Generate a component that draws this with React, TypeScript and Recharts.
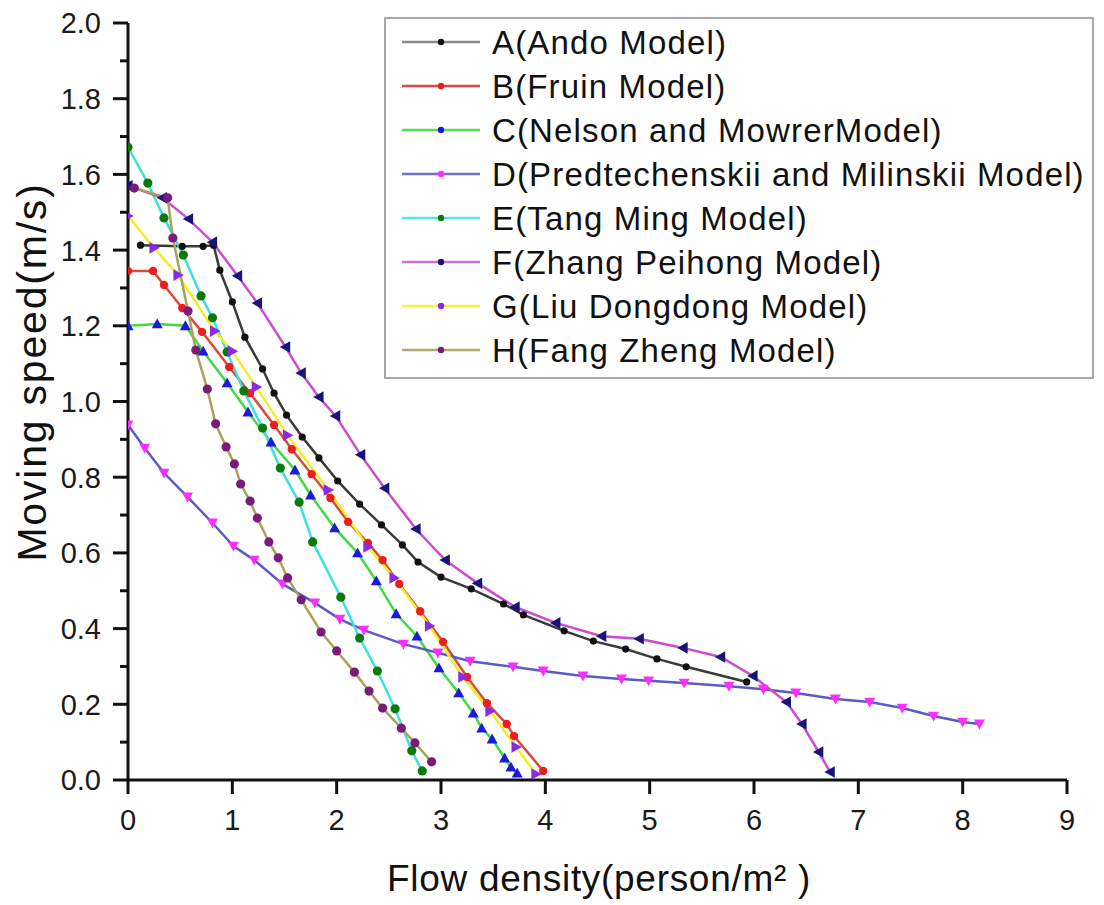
import React from 'react'
import { LineChart, Line, XAxis, YAxis } from 'recharts'

const FONT = '"Liberation Sans", Arial, Helvetica, sans-serif'

const xTicks = [0, 1, 2, 3, 4, 5, 6, 7, 8, 9]
const yTicks = [0, 0.1, 0.2, 0.3, 0.4, 0.5, 0.6, 0.7, 0.8, 0.9, 1.0, 1.1, 1.2, 1.3, 1.4, 1.5, 1.6, 1.7, 1.8, 1.9, 2.0]

// A (Ando)
const andoX = [0.12, 0.52, 0.72, 0.82, 0.88, 1.0, 1.12, 1.29, 1.4, 1.52, 1.67, 1.83, 2.01, 2.22, 2.43, 2.63, 2.78, 3.0, 3.29, 3.6, 3.79, 4.18, 4.46, 4.77, 5.07, 5.35, 5.93]
const andoY = [1.413, 1.41, 1.41, 1.413, 1.347, 1.263, 1.17, 1.086, 1.022, 0.964, 0.906, 0.851, 0.79, 0.729, 0.674, 0.621, 0.576, 0.536, 0.505, 0.465, 0.436, 0.394, 0.367, 0.346, 0.32, 0.299, 0.259]

// B (Fruin)
const fruinX = [0.0, 0.24, 0.345, 0.52, 0.71, 0.97, 1.17, 1.4, 1.57, 1.76, 1.94, 2.11, 2.3, 2.44, 2.6, 2.8, 3.02, 3.25, 3.44, 3.63, 3.7, 3.98]
const fruinY = [1.345, 1.345, 1.308, 1.247, 1.184, 1.091, 1.022, 0.938, 0.874, 0.808, 0.745, 0.682, 0.626, 0.581, 0.518, 0.446, 0.365, 0.272, 0.203, 0.148, 0.116, 0.024]

// C (Nelson and Mowrer)
const nelsonX = [0.0, 0.28, 0.55, 0.72, 0.95, 1.15, 1.37, 1.6, 1.75, 1.98, 2.2, 2.38, 2.57, 2.77, 2.98, 3.17, 3.31, 3.39, 3.49, 3.61, 3.67, 3.73]
const nelsonY = [1.2, 1.205, 1.2, 1.133, 1.049, 0.972, 0.893, 0.819, 0.753, 0.666, 0.6, 0.526, 0.439, 0.38, 0.296, 0.23, 0.177, 0.137, 0.108, 0.058, 0.034, 0.018]

// D (Predtechenskii and Milinskii)
const predX = [0.0, 0.16, 0.345, 0.57, 0.81, 1.01, 1.21, 1.48, 1.79, 2.03, 2.26, 2.64, 2.97, 3.28, 3.69, 3.98, 4.36, 4.73, 4.99, 5.33, 5.76, 6.09, 6.4, 6.78, 7.11, 7.42, 7.72, 8.0, 8.16]
const predY = [0.938, 0.877, 0.811, 0.748, 0.679, 0.618, 0.581, 0.518, 0.468, 0.425, 0.396, 0.359, 0.336, 0.314, 0.299, 0.288, 0.275, 0.267, 0.262, 0.256, 0.248, 0.24, 0.23, 0.214, 0.206, 0.19, 0.169, 0.153, 0.148]

// E (Tang Ming)
const tangX = [0.0, 0.19, 0.345, 0.53, 0.7, 0.81, 0.95, 1.11, 1.29, 1.46, 1.64, 1.77, 2.04, 2.22, 2.39, 2.56, 2.72, 2.82]
const tangY = [1.672, 1.577, 1.485, 1.387, 1.279, 1.221, 1.131, 1.028, 0.93, 0.824, 0.734, 0.629, 0.483, 0.375, 0.288, 0.188, 0.077, 0.024]

// F (Zhang Peihong)
const zhangX = [0.0, 0.33, 0.58, 0.81, 1.05, 1.24, 1.51, 1.66, 1.83, 1.99, 2.23, 2.46, 2.76, 3.04, 3.35, 3.71, 4.1, 4.54, 4.9, 5.32, 5.68, 5.99, 6.31, 6.46, 6.62, 6.73]
const zhangY = [1.57, 1.538, 1.482, 1.421, 1.332, 1.26, 1.144, 1.075, 1.012, 0.962, 0.859, 0.771, 0.663, 0.581, 0.52, 0.457, 0.415, 0.38, 0.373, 0.349, 0.325, 0.275, 0.206, 0.148, 0.074, 0.021]

// G (Liu Dongdong)
const liuX = [0.0, 0.25, 0.48, 0.83, 1.0, 1.23, 1.53, 1.92, 2.3, 2.55, 2.89, 3.21, 3.47, 3.72, 3.91]
const liuY = [1.49, 1.406, 1.334, 1.186, 1.133, 1.038, 0.911, 0.766, 0.616, 0.534, 0.407, 0.272, 0.182, 0.087, 0.016]

// H (Fang Zheng)
const fangX = [0.06, 0.38, 0.43, 0.575, 0.65, 0.76, 0.84, 0.94, 1.02, 1.08, 1.17, 1.24, 1.35, 1.44, 1.53, 1.66, 1.85, 2.0, 2.17, 2.31, 2.44, 2.62, 2.75, 2.91]
const fangY = [1.564, 1.538, 1.432, 1.239, 1.136, 1.033, 0.941, 0.88, 0.835, 0.782, 0.737, 0.692, 0.629, 0.587, 0.534, 0.476, 0.391, 0.341, 0.285, 0.235, 0.19, 0.137, 0.098, 0.048]

type Shape = 'circle' | 'up' | 'down' | 'left' | 'right'

const toPoints = (xs: number[], ys: number[]) => xs.map((x, i) => ({ x, y: ys[i] }))

const series = [
  { name: 'A(Ando Model)', xs: andoX, ys: andoY, line: '#3a3a3a', legendLine: '#8a8a8a', mark: '#111111', shape: 'circle' as Shape, size: 3.6 },
  { name: 'B(Fruin Model)', xs: fruinX, ys: fruinY, line: '#d84a3a', legendLine: '#e04848', mark: '#ee1c1c', shape: 'circle' as Shape, size: 4.2 },
  { name: 'C(Nelson and MowrerModel)', xs: nelsonX, ys: nelsonY, line: '#44d844', legendLine: '#55dd55', mark: '#1a1ad8', shape: 'up' as Shape, size: 5.5 },
  { name: 'D(Predtechenskii and Milinskii Model)', xs: predX, ys: predY, line: '#5a5ac8', legendLine: '#7070cc', mark: '#ff2cff', shape: 'down' as Shape, size: 5.5 },
  { name: 'E(Tang Ming Model)', xs: tangX, ys: tangY, line: '#3fe0e0', legendLine: '#55e5e5', mark: '#0b7a0b', shape: 'circle' as Shape, size: 4.6 },
  { name: 'F(Zhang Peihong Model)', xs: zhangX, ys: zhangY, line: '#cc4ccc', legendLine: '#d070d0', mark: '#16167a', shape: 'left' as Shape, size: 5.8 },
  { name: 'G(Liu Dongdong Model)', xs: liuX, ys: liuY, line: '#f0f02a', legendLine: '#f4f440', mark: '#8a2be2', shape: 'right' as Shape, size: 5.8 },
  { name: 'H(Fang Zheng Model)', xs: fangX, ys: fangY, line: '#a8a25a', legendLine: '#b0aa70', mark: '#7a1a7a', shape: 'circle' as Shape, size: 4.6 },
]

function markerPath(shape: Shape, cx: number, cy: number, s: number) {
  switch (shape) {
    case 'up':
      return `M${cx},${cy - s} L${cx + s},${cy + s * 0.8} L${cx - s},${cy + s * 0.8} Z`
    case 'down':
      return `M${cx},${cy + s} L${cx + s},${cy - s * 0.8} L${cx - s},${cy - s * 0.8} Z`
    case 'left':
      return `M${cx - s},${cy} L${cx + s * 0.8},${cy - s} L${cx + s * 0.8},${cy + s} Z`
    default:
      return `M${cx + s},${cy} L${cx - s * 0.8},${cy - s} L${cx - s * 0.8},${cy + s} Z`
  }
}

const makeDot = (shape: Shape, color: string, size: number) => (p: any) => {
  const { cx, cy, index } = p
  if (cx == null || cy == null) return <g key={index} />
  if (shape === 'circle') return <circle key={index} cx={cx} cy={cy} r={size} fill={color} />
  return <path key={index} d={markerPath(shape, cx, cy, size)} fill={color} />
}

const YTick = (p: any) => {
  const { x, y, payload } = p
  const v = payload.value as number
  const major = Math.round(v * 10) % 2 === 0
  return (
    <g>
      <line x1={x - (major ? 15 : 8)} x2={x} y1={y} y2={y} stroke="#111" strokeWidth={3} />
      {major && (
        <text x={x - 27} y={y} dy="0.36em" textAnchor="end" fontSize={29} fontFamily={FONT} fill="#1a1a1a">
          {v.toFixed(1)}
        </text>
      )}
    </g>
  )
}

const XTick = (p: any) => {
  const { x, y, payload } = p
  return (
    <g>
      <line x1={x} x2={x} y1={y} y2={y + 14} stroke="#111" strokeWidth={3} />
      <text x={x} y={y + 50} textAnchor="middle" fontSize={29} fontFamily={FONT} fill="#1a1a1a">
        {payload.value}
      </text>
    </g>
  )
}

function Overlay() {
  const rowY = 42
  const rowGap = 44
  return (
    <svg width={1104} height={905} style={{ position: 'absolute', left: 0, top: 0, pointerEvents: 'none' }}>
      <rect x={385} y={18} width={708} height={360} fill="#fff" stroke="#8c8c8c" strokeWidth={1.5} />
      {series.map((s, i) => {
        const cy = rowY + i * rowGap
        return (
          <g key={s.name}>
            <line x1={402} x2={480} y1={cy} y2={cy} stroke={s.legendLine} strokeWidth={2.5} />
            <circle cx={441} cy={cy} r={3.2} fill={s.mark} />
            <text x={492} y={cy + 11.5} fontSize={33} letterSpacing={1.15} fontFamily={FONT} fill="#111">
              {s.name}
            </text>
          </g>
        )
      })}
      <text
        x={32}
        y={372}
        dy="0.35em"
        textAnchor="middle"
        transform="rotate(-90 32 372)"
        fontSize={41}
        letterSpacing={1.8}
        fontFamily={FONT}
        fill="#111"
      >
        Moving speed(m/s)
      </text>
      <text x={599} y={891} textAnchor="middle" fontSize={37} letterSpacing={0.7} fontFamily={FONT} fill="#111">
        Flow density(person/m² )
      </text>
    </svg>
  )
}

export default function App() {
  return (
    <div style={{ position: 'absolute', left: 0, top: 0, width: 1104, height: 905, background: '#fff' }}>
      <LineChart width={1104} height={905} margin={{ top: 23, right: 37, left: 8, bottom: 5 }}>
        <XAxis
          dataKey="x"
          type="number"
          domain={[0, 9]}
          ticks={xTicks}
          interval={0}
          height={120}
          tickSize={0}
          tickMargin={0}
          tickLine={false}
          axisLine={{ stroke: '#111', strokeWidth: 3 }}
          tick={<XTick />}
          allowDataOverflow
        />
        <YAxis
          dataKey="y"
          type="number"
          domain={[0, 2]}
          ticks={yTicks}
          interval={0}
          width={120}
          tickSize={0}
          tickMargin={0}
          tickLine={false}
          axisLine={{ stroke: '#111', strokeWidth: 3 }}
          tick={<YTick />}
          allowDataOverflow
        />
        {series.map((s) => (
          <Line
            key={s.name}
            data={toPoints(s.xs, s.ys)}
            dataKey="y"
            type="linear"
            stroke={s.line}
            strokeWidth={2.5}
            dot={makeDot(s.shape, s.mark, s.size)}
            activeDot={false}
            isAnimationActive={false}
            name={s.name}
          />
        ))}
      </LineChart>
      <Overlay />
    </div>
  )
}
